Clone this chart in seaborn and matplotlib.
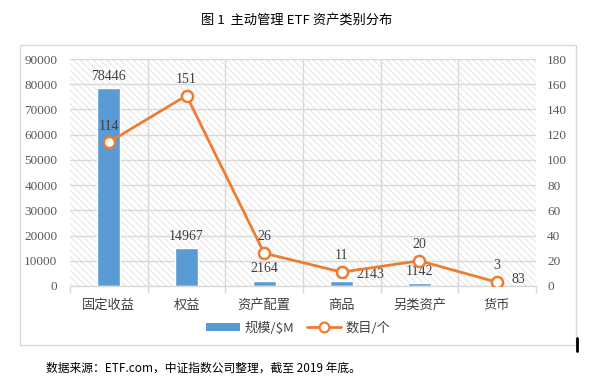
import matplotlib
matplotlib.use("Agg")
import matplotlib.pyplot as plt
import seaborn as sns
import pandas as pd
from matplotlib.patches import Rectangle, Patch
from matplotlib.lines import Line2D

categories = ["固定收益", "权益", "资产配置", "商品", "另类资产", "货币"]
scale_musd = [78446, 14967, 2164, 2143, 1142, 83]
fund_count = [114, 151, 26, 11, 20, 3]
left_ticks = list(range(0, 90001, 10000))
right_ticks = list(range(0, 181, 20))

sns.set_theme(style="white")
FAM = ["Liberation Serif", "Noto Sans CJK SC"]
plt.rcParams["font.family"] = FAM
plt.rcParams["hatch.linewidth"] = 0.5

BLUE = "#5B9BD5"
ORANGE = "#ED7D31"
GRID = "#D9D9D9"
TXT = "#404040"
TICK = "#595959"

df = pd.DataFrame({"cat": categories, "scale": scale_musd, "count": fund_count})

fig = plt.figure(figsize=(5.94, 3.83), dpi=100)
W, H = 594, 383
# outer chart border
fig.patches.append(Rectangle((20 / W, 1 - 345 / H), 556 / W, 300 / H,
                             transform=fig.transFigure, facecolor="none",
                             edgecolor=GRID, lw=1.0))
fig.lines.append(Line2D([577 / W, 577 / W], [1 - 338 / H, 1 - 351 / H],
                        transform=fig.transFigure, color="black", lw=2))

ax = fig.add_axes([70 / W, 1 - 286 / H, 466 / W, 227 / H])
ax.add_patch(Rectangle((0, 0), 1, 1, transform=ax.transAxes, facecolor="white",
                       hatch="\\\\\\\\\\", edgecolor="#DADADA", lw=0, zorder=0))
sns.barplot(data=df, x="cat", y="scale", color=BLUE, width=0.3, ax=ax,
            saturation=1, zorder=2)
ax.set_xlim(-0.5, 5.5)
ax.set_ylim(0, 90000)
ax.set_yticks(left_ticks, labels=[str(t) for t in left_ticks], fontfamily=FAM)
ax.set_xticks(range(len(categories)), labels=categories,
              fontfamily=["Noto Sans CJK SC"])
ax.set_xlabel("")
ax.set_ylabel("")
ax.set_axisbelow(True)
ax.yaxis.grid(True, color=GRID, lw=1)
for b in [0.5 + i for i in range(5)]:
    ax.axvline(b, color=GRID, lw=1, zorder=0.5)
for s in ["top", "right", "left"]:
    ax.spines[s].set_visible(False)
ax.spines["bottom"].set_color(GRID)
ax.spines["bottom"].set_linewidth(1)
ax.set_xticks([i - 0.5 for i in range(7)], minor=True)
ax.tick_params(axis="x", which="minor", length=5, color=GRID, width=1, bottom=True)
ax.tick_params(axis="x", which="major", length=0, pad=9, labelsize=9.5, labelcolor=TXT)
ax.tick_params(axis="y", length=0, pad=9, labelsize=9.5, labelcolor=TICK)

ax2 = ax.twinx()
sns.lineplot(data=df, x="cat", y="count", color=ORANGE, lw=2, marker="o",
             markersize=8, markerfacecolor="white", markeredgecolor=ORANGE,
             markeredgewidth=1.8, ax=ax2, zorder=3)
ax2.set_ylim(0, 180)
ax2.set_yticks(right_ticks, labels=[str(t) for t in right_ticks], fontfamily=FAM)
ax2.set_ylabel("")
ax2.set_xlabel("")
for s in ax2.spines.values():
    s.set_visible(False)
ax2.tick_params(axis="y", length=0, pad=8, labelsize=9.5, labelcolor=TICK)
ax2.grid(False)

# bar labels
bar_label_pos = ["top", "top", "top", "right", "top", "right"]
for i, (v, p) in enumerate(zip(scale_musd, bar_label_pos)):
    if p == "top":
        ax.annotate(f"{v}", (i, v), xytext=(0, 4), textcoords="offset points",
                    ha="center", va="bottom", fontsize=10, color=TXT)
    else:
        ax.annotate(f"{v}", (i + 0.15, v), xytext=(2, 0), textcoords="offset points",
                    ha="left", va="bottom", fontsize=10, color=TXT)
# line labels
for i, v in enumerate(fund_count):
    ax2.annotate(f"{v}", (i, v), xytext=(0, 7), textcoords="offset points",
                 ha="center", va="bottom", fontsize=10, color=TXT)

handles = [Patch(facecolor=BLUE, edgecolor="none"),
           Line2D([], [], color=ORANGE, lw=2, marker="o", markersize=7,
                  markerfacecolor="white", markeredgecolor=ORANGE, markeredgewidth=1.6)]
leg = fig.legend(handles, ["规模/$M", "数目/个"], loc="center",
                 bbox_to_anchor=(298 / W, 1 - 328 / H), ncol=2, frameon=False,
                 handlelength=2.6, handleheight=0.5, columnspacing=1.0,
                 handletextpad=0.3, prop={"family": ["Noto Sans CJK SC"], "size": 9.5})
for t in leg.get_texts():
    t.set_color(TXT)

fig.text(297 / W, 1 - 20 / H, "图 1  主动管理 ETF 资产类别分布", ha="center", va="center",
         fontsize=9.5, color="black", family=["Noto Sans CJK SC"])
fig.text(46 / W, 1 - 368 / H, "数据来源：ETF.com，中证指数公司整理，截至 2019 年底。",
         ha="left", va="center", fontsize=8.5, color="black",
         family=["Noto Sans CJK SC"])

fig.savefig("out.png", dpi=100)
